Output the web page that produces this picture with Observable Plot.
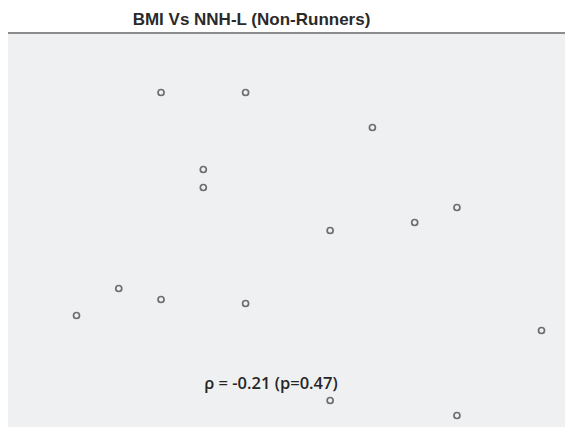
<!DOCTYPE html>
<html>
<head>
<meta charset="utf-8">
<script src="https://cdn.jsdelivr.net/npm/d3@7"></script>
<script src="https://cdn.jsdelivr.net/npm/@observablehq/plot@0.6"></script>
<style>
  html, body { margin: 0; padding: 0; background: #ffffff; }
  #wrap { position: relative; width: 565px; height: 427px; overflow: hidden; }
  #title { position: absolute; left: 0; top: 10px; width: 503px; text-align: center;
           font-family: "Liberation Sans", Arial, sans-serif; font-weight: bold; font-size: 17px; color: #2a2a2a; }
  #rule { position: absolute; left: 8px; top: 32px; width: 557px; height: 2px; background: #8c8c8c; }
  #chart { position: absolute; left: 8px; top: 34px; }
</style>
</head>
<body>
<div id="wrap">
  <div id="title">BMI Vs NNH-L (Non-Runners)</div>
  <div id="rule"></div>
  <div id="chart"></div>
</div>
<script>
// BMI (x) and NNH-L (y) values (arbitrary units, no axes shown)
const bmi  = [22, 24, 27, 23, 23, 26, 28, 29, 21, 22, 24, 20, 31, 26, 29];
const nnhl = [33.5, 33.5, 30.0, 25.8, 24.0, 19.7, 20.5, 22.0, 13.9, 12.8, 12.4, 11.2, 9.7, 2.7, 1.2];
const annotation = ["ρ = -0.21 (p=0.47)"];
const annotationX = [24.6];
const annotationY = [4.4];

const data = bmi.map((x, i) => ({x, y: nnhl[i]}));
const notes = annotation.map((t, i) => ({t, x: annotationX[i], y: annotationY[i]}));

const chart = Plot.plot({
  width: 557,
  height: 393,
  marginLeft: 68,
  marginRight: 24,
  marginTop: 0,
  marginBottom: 0,
  style: {background: "#eff0f2", fontFamily: "Liberation Sans, Arial, sans-serif"},
  x: {domain: [20, 31], axis: null},
  y: {domain: [0, 39.3], axis: null},
  marks: [
    Plot.dot(data, {x: "x", y: "y", r: 3, stroke: "#6e6e6e", strokeWidth: 1.7, fill: "none"}),
    Plot.text(notes, {x: "x", y: "y", text: "t", fontSize: 16.5, fill: "#262626",
      fontFamily: "Open Sans, Liberation Sans, sans-serif", fontWeight: 600})
  ]
});
document.getElementById("chart").appendChild(chart);
</script>
</body>
</html>
